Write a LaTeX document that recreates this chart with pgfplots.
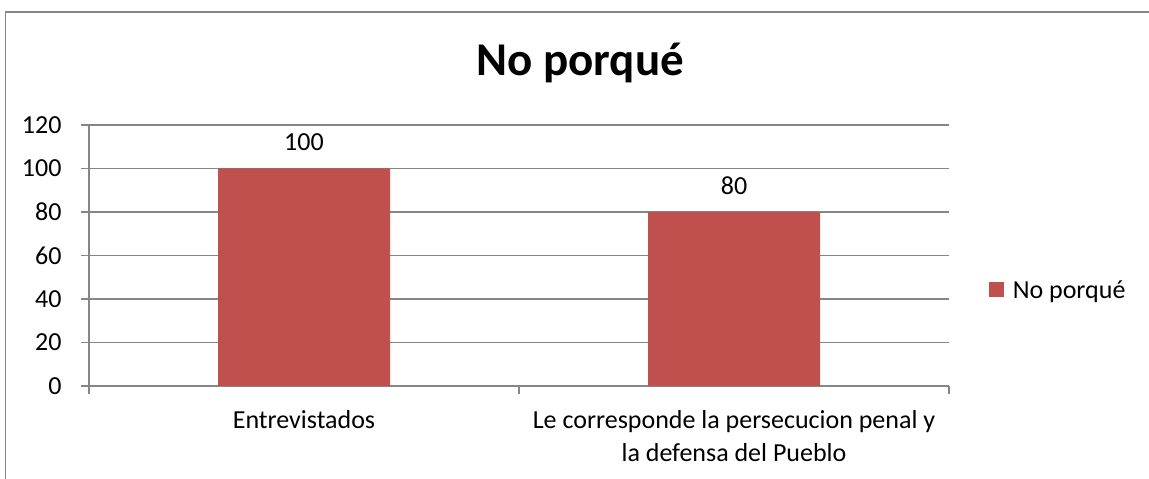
\documentclass[border=0pt]{standalone}
\usepackage{fontspec}
\setmainfont{Carlito}
\usepackage{pgfplots}
\pgfplotsset{compat=1.18}
\definecolor{barred}{HTML}{C0504D}
\definecolor{gridgray}{HTML}{868686}
\begin{document}
\begin{tikzpicture}
\path[use as bounding box] (0,0) rectangle (1149pt,479pt);
\draw[gridgray,line width=1.3pt] (5.5pt,0) -- (5.5pt,467pt) -- (1149pt,467pt);
\begin{axis}[
  at={(89pt,93pt)}, anchor=south west,
  scale only axis, width=860pt, height=261pt,
  xmin=-0.5, xmax=1.5, ymin=0, ymax=120,
  ytick={0,20,...,120},
  xtick={0,1},
  xticklabels={Entrevistados, {Le corresponde la persecucion penal y\\la defensa del Pueblo}},
  minor xtick={-0.5,0.5,1.5},
  axis x line=bottom, axis y line=left,
  axis line style={gridgray, line width=1.2pt, -},
  ymajorgrids, grid style={gridgray, line width=1.2pt},
  major tick style={gridgray, line width=1.2pt},
  minor tick style={gridgray, line width=1.2pt},
  tick align=outside,
  major tick length=8pt, minor tick length=8pt,
  x tick style={draw=none},
  minor x tick style={draw=gridgray},
  every tick label/.append style={font=\fontsize{26}{33}\selectfont},
  /pgf/number format/assume math mode=true,
  xticklabel style={align=center, yshift=-13pt},
  yticklabel style={anchor=east, xshift=-16pt},
  ybar, bar width=0.4,
  nodes near coords,
  every node near coord/.append style={font=\fontsize{26}{31}\selectfont, yshift=14pt, black},
  title={No porqué},
  title style={font=\fontsize{47}{56}\selectfont\bfseries, at={(0.571,1.165)}, anchor=base},
  legend style={draw=none, at={(1.046,0.368)}, anchor=west, font=\fontsize{26}{31}\selectfont, inner sep=0pt},
  legend image code/.code={\fill[barred] (0pt,-7.5pt) rectangle (15pt,7.5pt); \path (22pt,0pt);},
]
\addplot[fill=barred, draw=none] coordinates {(0,100) (1,80)};
\addlegendentry{No porqué}
\end{axis}
\end{tikzpicture}
\end{document}
